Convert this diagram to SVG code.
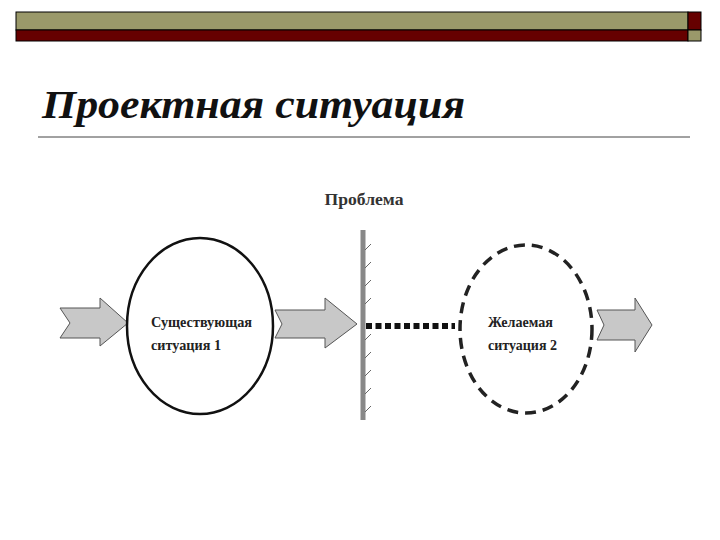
<svg xmlns="http://www.w3.org/2000/svg" width="720" height="540" viewBox="0 0 720 540">
<style>
.lbl{font-family:"Liberation Serif",serif;font-weight:bold;font-size:15px;fill:#222}
.arr{fill:#c8c8c8;stroke:#555;stroke-width:1}
</style>
<rect width="720" height="540" fill="#fff"/>
<g id="header" stroke="#000" stroke-width="1">
<rect x="16" y="12" width="672" height="18" fill="#9a996a"/>
<rect x="16" y="30" width="672" height="11" fill="#660000"/>
<rect x="688" y="12" width="13" height="18" fill="#660000"/>
<rect x="688" y="30" width="13" height="11" fill="#9a996a"/>
</g>
<text x="42" y="118" font-family="Liberation Serif,serif" font-style="italic" font-weight="bold" font-size="40" fill="#111" textLength="423" lengthAdjust="spacingAndGlyphs">Проектная ситуация</text>
<line x1="38" y1="137" x2="690" y2="137" stroke="#444" stroke-width="1"/>
<g id="connectors">
<path class="arr" d="M60,308 L100,308 L100,298 L128,323 L100,346 L100,338 L60,338 L70,323 Z"/>
<path class="arr" d="M275,310 L325,310 L325,298 L357,324 L325,348 L325,338 L275,338 L282,324 Z"/>
<path class="arr" d="M597,310 L635,310 L635,298 L652,325 L635,352 L635,340 L597,340 L604,325 Z"/>
<line x1="366" y1="326" x2="455" y2="326" stroke="#111" stroke-width="6" stroke-dasharray="6,3.5"/>
</g>
<g id="wall">
<line x1="363" y1="230" x2="363" y2="420" stroke="#888" stroke-width="5"/>
<path d="M365,250 l6,-6 M365,268 l6,-6 M365,286 l6,-6 M365,304 l6,-6 M365,340 l6,-6 M365,358 l6,-6 M365,376 l6,-6 M365,394 l6,-6 M365,412 l6,-6" stroke="#666" stroke-width="1"/>
<text x="364" y="205" text-anchor="middle" font-family="Liberation Serif,serif" font-weight="bold" font-size="17" fill="#333" textLength="79" lengthAdjust="spacingAndGlyphs">Проблема</text>
</g>
<g id="existing">
<ellipse cx="200" cy="326" rx="73" ry="88" fill="#fff" stroke="#111" stroke-width="2.5"/>
<text class="lbl" x="151" y="327" textLength="101" lengthAdjust="spacingAndGlyphs">Существующая</text>
<text class="lbl" x="151" y="350" textLength="70" lengthAdjust="spacingAndGlyphs">ситуация 1</text>
</g>
<g id="desired">
<ellipse cx="526" cy="329" rx="66" ry="84" fill="none" stroke="#222" stroke-width="3.5" stroke-dasharray="11,7"/>
<text class="lbl" x="488" y="327" textLength="65" lengthAdjust="spacingAndGlyphs">Желаемая</text>
<text class="lbl" x="488" y="350" textLength="69" lengthAdjust="spacingAndGlyphs">ситуация 2</text>
</g>
</svg>
